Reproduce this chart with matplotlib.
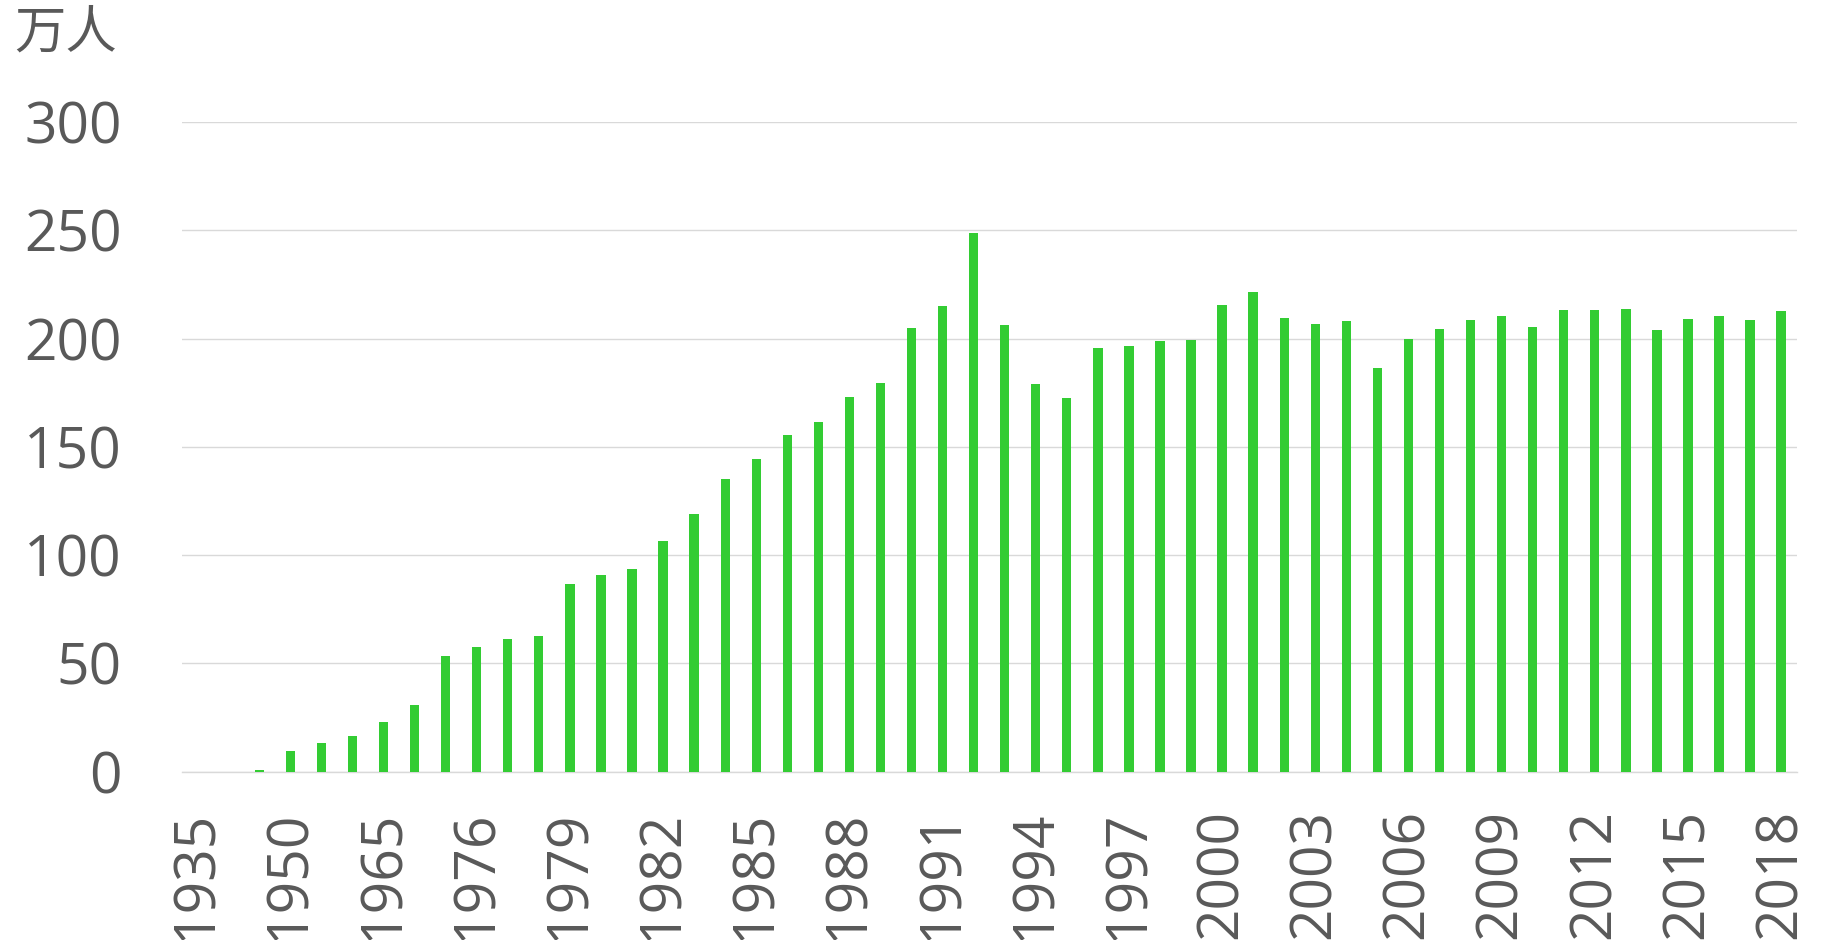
import matplotlib.pyplot as plt
import numpy as np

plt.rcParams['font.family'] = ['Open Sans', 'Noto Sans CJK SC', 'DejaVu Sans']

# years (category axis) and values in 万人
years = ['1935', '1940', '1945', '1950', '1955', '1960', '1965', '1970', '1975'] + \
        [str(y) for y in range(1976, 2019)]
values = [0, 0, 1.0, 9.8, 13.4, 16.3, 23.2, 30.9, 53.3,
          57.4, 61.2, 62.6, 86.8, 90.7, 93.8, 106.6, 119.2, 135.2, 144.4,
          155.6, 161.7, 173.3, 179.4, 204.8, 215.0, 248.9, 206.2, 179.0, 172.5,
          195.9, 196.7, 198.9, 199.5, 215.8, 221.7, 209.5,
          206.6, 208.3, 186.7, 199.7, 204.4, 208.7, 210.3, 205.6, 213.3, 213.1,
          213.7, 204.0, 209.1, 210.3, 208.7, 212.9]
y_ticks = [0, 50, 100, 150, 200, 250, 300]

text_color = '#595959'
grid_color = '#D9D9D9'
bar_color = '#33CC33'

fig = plt.figure(figsize=(18.22, 9.40), dpi=100)
ax = fig.add_axes([0.0997, 0.179, 0.8864, 0.691])

x = np.arange(len(years))
ax.bar(x, values, width=0.30, color=bar_color, zorder=3)

ax.set_xlim(-0.5, len(years) - 0.5)
ax.set_ylim(0, 300)
ax.set_yticks(y_ticks)
ax.set_yticklabels([str(v) for v in y_ticks])
ax.yaxis.grid(True, color=grid_color, linewidth=1.0, zorder=0)

# only every third year gets a label
ax.set_xticks(x[::3])
ax.set_xticklabels(years[::3], rotation=90)

for side in ['top', 'right', 'left']:
    ax.spines[side].set_visible(False)
ax.spines['bottom'].set_color(grid_color)
ax.spines['bottom'].set_linewidth(1.0)

ax.tick_params(axis='y', length=0, pad=43, labelsize=41, labelcolor=text_color)
ax.tick_params(axis='x', length=0, pad=27, labelsize=41, labelcolor=text_color)

fig.text(0.0077, 0.991, '万人', fontsize=37, color=text_color, ha='left', va='top')

fig.savefig('out.png', dpi=100, facecolor='white')
